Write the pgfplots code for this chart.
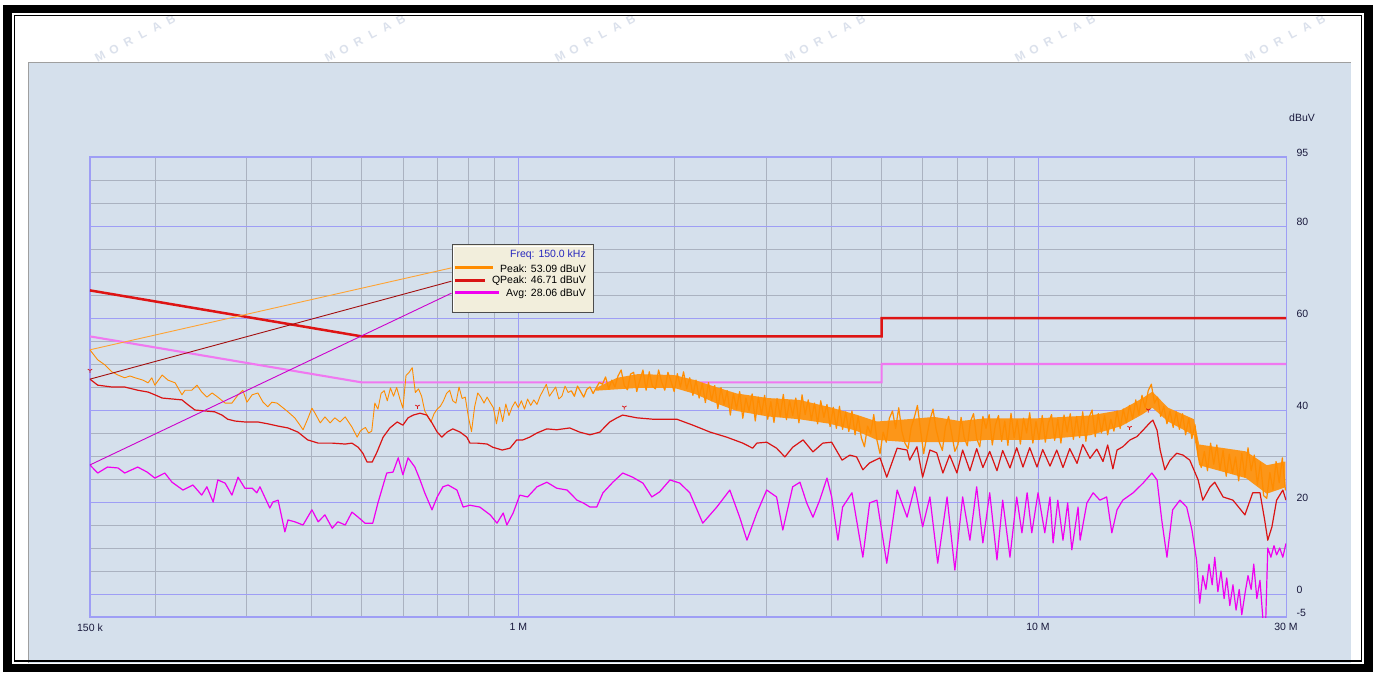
\documentclass[border=0pt]{standalone}
\usepackage{fontspec}
\setmainfont{Liberation Sans}
\usepackage{pgfplots}
\pgfplotsset{compat=1.18}
\usepackage{pgfplotstable}
\definecolor{panelbg}{RGB}{213,224,236}
\definecolor{gridblue}{RGB}{158,158,245}
\definecolor{gridgray}{RGB}{170,178,192}
\definecolor{labcol}{RGB}{25,25,60}
\definecolor{pkcol}{RGB}{255,140,0}
\definecolor{pkfill}{RGB}{252,150,25}
\definecolor{qpcol}{RGB}{218,20,20}
\definecolor{avcol}{RGB}{240,0,240}
\definecolor{qplim}{RGB}{222,20,20}
\definecolor{avlim}{RGB}{240,120,240}
\definecolor{tipbg}{RGB}{242,238,220}
\definecolor{wmark}{RGB}{219,225,236}
\definecolor{freqblue}{RGB}{40,40,190}

% lf = log10(frequency / MHz), v = level in dBuV
\pgfplotstableread{
lf v
-0.824 53.09
-0.809 50.9
-0.795 49.8
-0.782 48.3
-0.770 47.6
-0.757 47.0
-0.747 47.4
-0.737 47.0
-0.722 46.5
-0.712 45.9
-0.705 47.0
-0.699 45.4
-0.685 47.6
-0.674 46.5
-0.660 45.9
-0.647 43.3
-0.641 44.3
-0.628 44.3
-0.618 45.4
-0.609 43.9
-0.599 42.8
-0.589 43.7
-0.578 42.8
-0.564 41.5
-0.551 41.5
-0.539 43.3
-0.530 44.3
-0.522 41.7
-0.512 43.3
-0.501 43.7
-0.491 41.7
-0.482 40.7
-0.474 41.7
-0.464 41.5
-0.455 40.7
-0.443 39.6
-0.430 38.3
-0.420 36.7
-0.414 35.7
-0.406 37.8
-0.397 40.4
-0.391 39.3
-0.381 37.2
-0.372 38.5
-0.362 37.2
-0.353 38.3
-0.343 37.4
-0.333 38.5
-0.320 36.3
-0.310 34.1
-0.304 35.4
-0.300 35.8
-0.294 36.2
-0.288 35.0
-0.282 35.4
-0.276 41.5
-0.270 40.2
-0.264 43.6
-0.258 44.2
-0.252 42.0
-0.246 44.8
-0.240 43.0
-0.234 44.9
-0.228 42.5
-0.222 40.4
-0.216 47.5
-0.210 48.2
-0.204 49.2
-0.198 43.8
-0.192 44.6
-0.186 43.0
-0.180 39.8
-0.174 38.6
-0.168 37.4
-0.162 39.2
-0.156 40.2
-0.150 40.8
-0.144 42.0
-0.138 43.6
-0.132 44.3
-0.126 42.0
-0.120 41.5
-0.114 45.0
-0.108 42.5
-0.102 42.8
-0.096 38.5
-0.090 35.3
-0.084 40.7
-0.078 43.7
-0.072 42.8
-0.066 41.5
-0.060 42.8
-0.054 41.6
-0.048 40.5
-0.042 37.0
-0.036 40.6
-0.030 37.5
-0.024 41.3
-0.018 38.8
-0.012 40.6
-0.006 41.8
0.000 40.5
0.006 42.0
0.012 40.2
0.018 42.4
0.024 41.0
0.030 42.2
0.036 41.2
0.042 43.0
0.048 44.3
0.054 45.6
0.060 43.0
0.066 44.0
0.072 45.0
0.078 42.4
0.084 43.0
0.090 45.2
0.096 43.8
0.102 44.2
}\peakA

\pgfplotstableread{
lf v
0.102 44.2
0.108 43.0
0.114 45.2
0.120 44.0
0.126 42.8
0.132 44.5
0.138 45.0
0.144 43.6
0.150 44.8
0.156 46.0
0.162 45.6
0.168 47.2
0.174 44.6
0.180 46.5
0.186 45.0
0.192 47.4
0.198 48.7
0.204 45.3
0.210 44.4
0.216 47.8
0.222 48.2
0.228 44.0
0.234 46.5
0.240 48.7
0.246 44.3
0.252 48.3
0.258 45.2
0.264 44.6
0.270 48.7
0.276 46.0
0.282 44.3
0.288 48.2
0.294 46.2
0.300 44.0
0.306 47.9
0.312 45.0
0.318 48.3
0.324 44.6
0.330 47.0
0.336 43.2
0.342 46.5
0.348 42.6
0.354 45.8
0.360 41.6
0.366 46.0
0.372 42.0
0.378 45.3
0.384 40.3
0.390 44.9
0.396 41.2
0.402 44.2
0.408 38.9
0.414 43.6
0.420 40.2
0.426 44.0
0.432 38.2
0.438 42.6
0.444 39.8
0.450 43.5
0.456 37.6
0.462 42.8
0.468 39.0
0.474 43.2
0.480 38.0
0.486 41.8
0.492 37.3
0.498 42.5
0.504 38.6
0.510 43.4
0.516 37.9
0.522 42.0
0.528 38.8
0.534 42.6
0.540 37.2
0.546 43.3
0.552 39.0
0.558 42.2
0.564 37.8
0.570 41.5
0.576 37.0
0.582 42.0
0.588 38.4
0.594 41.2
0.600 36.4
0.606 40.6
0.612 36.0
0.618 40.8
0.624 35.8
0.630 39.6
0.636 35.3
0.642 39.8
0.648 34.6
0.654 38.6
0.660 34.0
0.666 32.0
0.672 36.5
0.678 34.8
0.684 39.0
0.690 33.5
0.696 30.5
0.702 35.2
0.708 33.0
0.714 38.2
0.720 39.8
0.726 36.0
0.732 40.5
0.738 35.4
0.744 32.8
0.750 31.6
0.756 36.2
0.762 38.4
0.768 41.0
0.774 35.6
0.780 30.5
0.786 34.2
0.792 37.8
0.798 40.2
0.804 35.8
0.810 33.0
0.816 31.2
0.822 36.4
0.828 38.6
0.834 34.8
0.840 31.0
0.846 32.5
0.852 38.4
0.858 34.0
0.864 32.2
0.870 37.5
0.876 39.2
0.882 33.8
0.888 32.0
0.894 38.6
0.900 36.0
0.906 39.0
0.912 32.4
0.918 36.8
0.924 38.8
0.930 33.2
0.936 37.6
0.942 32.3
0.948 39.3
0.954 34.0
0.960 37.8
0.966 32.6
0.972 38.2
0.978 35.0
0.984 39.4
0.990 32.8
0.996 37.5
1.002 33.6
1.008 38.8
1.014 33.0
1.020 37.2
1.026 39.0
1.032 33.4
1.038 38.0
1.044 32.8
1.050 38.9
1.056 35.2
1.062 39.2
1.068 33.6
1.074 38.6
1.080 34.0
1.086 39.6
1.092 33.2
1.098 38.4
1.104 40.0
1.110 34.2
1.116 39.2
1.122 35.0
1.128 38.8
1.134 34.6
1.140 38.0
1.146 35.4
1.152 39.8
1.158 36.0
1.164 40.2
1.170 37.2
1.176 41.0
1.182 38.0
1.188 42.2
1.194 39.0
1.200 43.2
1.206 40.5
1.212 44.2
1.218 45.6
1.224 41.5
1.230 42.8
1.236 38.6
1.242 40.8
1.248 37.0
1.254 39.8
1.260 36.2
1.266 39.6
1.272 35.8
1.278 39.2
1.284 34.6
1.290 38.2
1.296 33.8
1.302 36.8
1.308 30.0
1.314 27.5
1.320 31.0
1.326 26.8
1.332 32.8
1.338 28.2
1.344 32.4
1.350 27.0
1.356 31.2
1.362 25.6
1.368 30.4
1.374 26.2
1.380 29.8
1.386 24.6
1.392 30.6
1.398 25.4
1.404 31.8
1.410 26.8
1.416 30.2
1.422 23.8
1.428 28.6
1.434 21.4
1.440 20.8
1.446 26.4
1.452 22.6
1.458 28.8
1.464 24.2
1.470 29.6
1.476 22.5
}\peakB

% dense core of the Peak band: upper edge left to right, then lower edge right to left
\pgfplotstableread{
lf v
0.150 44.8
0.190 47.0
0.230 47.8
0.300 47.6
0.340 46.5
0.380 45.0
0.420 43.6
0.480 42.6
0.540 42.2
0.600 40.6
0.650 39.0
0.690 37.5
0.750 38.0
0.800 38.5
0.850 37.6
0.900 38.2
1.000 38.2
1.100 38.8
1.160 40.0
1.200 42.5
1.220 44.0
1.250 40.5
1.300 38.0
1.310 32.5
1.400 31.0
1.440 28.0
1.476 28.8
1.476 23.2
1.440 21.8
1.400 25.2
1.310 28.0
1.300 34.5
1.250 37.5
1.220 40.5
1.200 39.0
1.160 36.5
1.100 34.5
1.000 33.5
0.900 33.5
0.850 33.0
0.800 33.0
0.750 33.0
0.690 33.5
0.650 35.5
0.600 37.0
0.540 38.0
0.480 38.6
0.420 39.8
0.380 41.5
0.340 43.5
0.300 44.8
0.230 44.8
0.190 44.5
0.150 44.2
}\peakcore

\pgfplotstableread{
lf v
-0.824 46.71
-0.809 45.4
-0.782 45.0
-0.757 45.0
-0.732 44.3
-0.712 43.9
-0.699 43.3
-0.685 42.6
-0.666 42.4
-0.647 42.2
-0.635 41.1
-0.622 40.0
-0.603 39.8
-0.584 39.6
-0.570 38.9
-0.559 38.0
-0.545 37.6
-0.526 37.4
-0.501 37.4
-0.482 37.0
-0.462 36.5
-0.443 36.1
-0.424 35.2
-0.405 33.5
-0.385 32.8
-0.358 32.8
-0.333 32.6
-0.320 32.8
-0.308 31.9
-0.299 30.6
-0.291 28.7
-0.281 28.7
-0.272 30.8
-0.260 34.1
-0.247 36.1
-0.233 37.4
-0.222 36.7
-0.212 38.3
-0.202 38.9
-0.189 39.3
-0.176 38.9
-0.166 37.2
-0.156 35.2
-0.147 34.1
-0.137 35.2
-0.126 35.9
-0.112 35.2
-0.099 34.1
-0.093 32.8
-0.079 32.8
-0.060 32.6
-0.049 31.9
-0.031 31.3
-0.016 31.7
-0.003 33.5
0.009 33.5
0.022 34.1
0.036 35.0
0.055 35.9
0.074 35.7
0.099 36.1
0.118 35.2
0.138 34.6
0.157 35.2
0.176 37.4
0.190 38.3
0.201 38.9
0.228 38.3
0.259 38.0
0.292 38.0
0.305 38.0
0.336 36.7
0.369 35.2
0.401 34.1
0.432 32.8
0.451 31.7
0.459 32.8
0.478 33.0
0.497 31.7
0.513 29.8
0.528 31.9
0.548 33.5
0.567 30.9
0.586 32.8
0.603 33.0
0.623 29.1
0.638 30.2
0.651 29.8
0.663 27.0
0.676 28.5
0.696 29.6
0.709 25.4
0.729 31.7
0.748 31.3
0.753 29.1
0.767 32.0
0.778 25.4
0.792 31.3
0.805 30.7
0.817 26.3
0.830 30.2
0.844 26.3
0.855 31.3
0.869 26.8
0.882 31.6
0.894 27.5
0.907 31.0
0.921 26.8
0.932 31.2
0.946 27.4
0.959 31.8
0.971 27.6
0.984 31.8
0.998 27.6
1.009 31.4
1.023 27.8
1.036 31.3
1.048 27.5
1.061 31.6
1.075 28.4
1.086 32.5
1.100 29.5
1.113 31.5
1.125 28.8
1.134 32.4
1.144 27.2
1.152 31.3
1.163 32.0
1.177 33.5
1.190 34.2
1.202 35.6
1.215 37.2
1.221 37.8
1.229 35.6
1.235 31.3
1.244 27.0
1.254 29.1
1.267 30.6
1.279 30.2
1.292 29.1
1.308 24.8
1.317 20.4
1.331 23.3
1.340 24.3
1.356 21.1
1.375 20.4
1.398 17.2
1.413 22.0
1.427 22.0
1.436 16.1
1.442 11.7
1.450 14.6
1.459 20.4
1.471 22.6
1.477 20.4
}\qpdata

\pgfplotstableread{
lf v
-0.824 28.06
-0.809 26.3
-0.790 27.6
-0.770 27.4
-0.757 26.3
-0.732 27.6
-0.714 26.5
-0.699 25.2
-0.680 26.3
-0.666 24.3
-0.645 22.6
-0.626 23.7
-0.609 21.5
-0.599 23.3
-0.587 20.0
-0.578 24.8
-0.564 24.1
-0.551 21.5
-0.539 25.4
-0.526 23.0
-0.512 23.0
-0.503 22.0
-0.497 23.3
-0.478 18.7
-0.472 20.0
-0.462 20.4
-0.449 13.5
-0.443 16.1
-0.430 15.7
-0.414 15.0
-0.397 18.3
-0.385 15.7
-0.372 17.2
-0.358 14.3
-0.347 15.7
-0.333 15.0
-0.320 17.8
-0.308 16.7
-0.295 15.4
-0.280 15.4
-0.270 19.8
-0.256 25.2
-0.253 26.3
-0.241 26.5
-0.231 29.6
-0.222 25.9
-0.212 29.6
-0.199 27.6
-0.189 24.8
-0.180 22.0
-0.166 18.3
-0.156 21.1
-0.145 23.3
-0.135 23.7
-0.118 22.6
-0.106 18.9
-0.093 19.3
-0.074 18.9
-0.054 17.2
-0.041 15.4
-0.029 17.6
-0.022 15.0
-0.010 17.6
0.003 21.5
0.018 21.1
0.036 23.3
0.055 24.3
0.074 23.0
0.094 22.6
0.113 20.4
0.125 19.8
0.138 18.9
0.151 18.9
0.163 22.0
0.182 24.3
0.201 26.3
0.220 25.4
0.240 24.1
0.257 21.1
0.272 22.2
0.292 24.8
0.311 24.1
0.330 22.0
0.355 15.4
0.382 18.9
0.407 22.6
0.426 16.7
0.440 11.7
0.459 17.6
0.478 22.6
0.497 21.1
0.509 13.9
0.528 23.3
0.542 24.3
0.555 19.8
0.567 16.7
0.580 20.4
0.594 25.2
0.603 21.1
0.615 11.7
0.624 18.9
0.642 22.0
0.663 8.0
0.676 19.8
0.690 20.4
0.709 6.7
0.729 22.6
0.748 16.7
0.763 23.3
0.778 14.6
0.792 21.1
0.807 6.7
0.825 21.1
0.840 5.2
0.855 21.1
0.869 11.7
0.882 23.3
0.894 11.1
0.907 22.0
0.921 7.4
0.932 20.4
0.946 8.0
0.959 21.1
0.969 13.3
0.979 22.0
0.988 13.3
1.000 22.0
1.013 13.3
1.023 21.1
1.029 11.1
1.038 20.4
1.048 11.7
1.057 19.8
1.065 9.6
1.077 18.9
1.081 11.7
1.094 19.8
1.106 22.0
1.119 20.4
1.132 21.1
1.142 13.3
1.152 18.3
1.163 20.4
1.183 22.0
1.202 24.1
1.219 26.3
1.229 24.8
1.238 16.1
1.248 8.0
1.259 18.3
1.273 20.4
1.286 18.9
1.296 14.0
1.305 7.4
1.311 -2.0
1.317 4.0
1.323 1.0
1.329 6.5
1.335 2.0
1.340 8.0
1.346 0.5
1.352 5.0
1.358 -1.0
1.363 3.5
1.369 -2.5
1.375 2.0
1.381 -3.5
1.387 1.0
1.392 -4.5
1.398 0.0
1.404 4.0
1.410 1.0
1.415 6.5
1.421 -1.0
1.427 3.0
1.433 -6.0
1.438 -6.0
1.442 10.0
1.448 8.0
1.454 10.5
1.459 8.5
1.465 10.0
1.471 8.0
1.477 11.0
}\avgdata

\begin{document}
\begin{tikzpicture}
\begin{scope}[x=1pt,y=1pt]
\path[use as bounding box] (0,0) rectangle (1373,675);
\fill[white] (0,0) rectangle (1373,675);
% faint watermark
\foreach \wx in {100,330,560,790,1020,1250}{
  \foreach \ch [count=\i from 0] in {M,O,R,L,A,B}{
    \node[rotate=28,text=wmark,font=\bfseries\fontsize{12}{14}\selectfont,inner sep=0pt]
      at ([shift={(28:\i*16)}]\wx,618) {\ch};
  }
}
\fill[panelbg] (28,12) rectangle (1351,612);
\draw[gray!75,line width=1pt] (28,12) -- (28,612) -- (1351,612);
\node[anchor=west,text=labcol,font=\fontsize{10.5}{12}\selectfont,inner sep=0pt] at (1289,557) {dBuV};
\end{scope}

\begin{axis}[
  at={(90pt,58pt)}, anchor=south west,
  scale only axis, width=1196pt, height=460pt,
  xmode=log, xmin=0.15, xmax=30, ymin=-5, ymax=95,
  axis line style={draw=gridblue,line width=1.1pt},
  xtick={0.15,1,10,30}, xticklabels={150 k,1 M,10 M,30 M},
  minor xtick={0.2,0.3,0.4,0.5,0.6,0.7,0.8,0.9,2,3,4,5,6,7,8,9,20},
  ytick={-5,0,20,40,60,80,95}, yticklabels={-5,0,20,40,60,80,95},
  minor ytick={5,10,15,25,30,35,45,50,55,65,70,75,85,90},
  grid=both,
  major grid style={draw=gridblue,line width=0.9pt},
  minor grid style={draw=gridgray,line width=0.6pt},
  major tick length=0pt, minor tick length=0pt,
  yticklabel pos=right,
  tick label style={font=\fontsize{10.5}{12}\selectfont, text=labcol},
  yticklabel style={anchor=west, xshift=7pt, yshift=4pt},
  xticklabel style={yshift=-3pt},
]
\addplot[qplim, line width=2.5pt] coordinates {(0.15,66) (0.5,56) (5,56) (5,60) (30,60)};
\addplot[avlim, line width=2.1pt] coordinates {(0.15,56) (0.5,46) (5,46) (5,50) (30,50)};
\addplot[fill=pkfill, draw=none] table[x expr={10^(\thisrow{lf})}, y=v] {\peakcore} -- cycle;
\addplot[pkcol, line width=0.9pt, line join=round] table[x expr={10^(\thisrow{lf})}, y=v] {\peakA};
\addplot[pkcol, line width=1.2pt, line join=round] table[x expr={10^(\thisrow{lf})}, y=v] {\peakB};
\addplot[qpcol, line width=1.2pt, line join=round] table[x expr={10^(\thisrow{lf})}, y=v] {\qpdata};
\addplot[avcol, line width=1.2pt, line join=round] table[x expr={10^(\thisrow{lf})}, y=v] {\avgdata};
\addplot[only marks, mark=Mercedes star, mark size=2.5pt, mark options={rotate=180, draw=qpcol, line width=0.8pt}] coordinates {(0.15,48.6) (0.64,40.8) (1.6,40.6) (15.0,36.2) (16.3,40.0)};
\addplot[pkcol!80!white, line width=0.9pt] coordinates {(0.15,53.09) (0.744,70.9)};
\addplot[qpcol!75!black, line width=0.9pt] coordinates {(0.15,46.71) (0.744,68.0)};
\addplot[avcol!85!black, line width=0.9pt] coordinates {(0.15,28.06) (0.744,65.4)};
\end{axis}

\begin{scope}[x=1pt,y=1pt]
\draw[fill=tipbg, draw=black!70, line width=1pt] (452,362) rectangle (593,430);
\draw[white, line width=0.8pt] (453.5,363.5) -- (453.5,428.5) -- (591.5,428.5);
\draw[pkcol, line width=3pt] (455,407) -- (493,407);
\draw[qpcol, line width=3pt] (455,394) -- (485,394);
\draw[avcol, line width=3pt] (455,382) -- (499,382);
\node[anchor=east,inner sep=0pt,font=\fontsize{10.5}{12}\selectfont,text=freqblue] at (586,420) {Freq: 150.0 kHz};
\node[anchor=east,inner sep=0pt,font=\fontsize{10.5}{12}\selectfont,text=black] at (586,406) {Peak: 53.09 dBuV};
\node[anchor=east,inner sep=0pt,font=\fontsize{10.5}{12}\selectfont,text=black] at (586,394) {QPeak: 46.71 dBuV};
\node[anchor=east,inner sep=0pt,font=\fontsize{10.5}{12}\selectfont,text=black] at (586,381) {Avg: 28.06 dBuV};
\draw[black, line width=8.5pt] (7.5,7) rectangle (1368.5,666);
\draw[black, line width=1.5pt] (14.5,14) rectangle (1361.5,659.5);
\end{scope}
\end{tikzpicture}
\end{document}
